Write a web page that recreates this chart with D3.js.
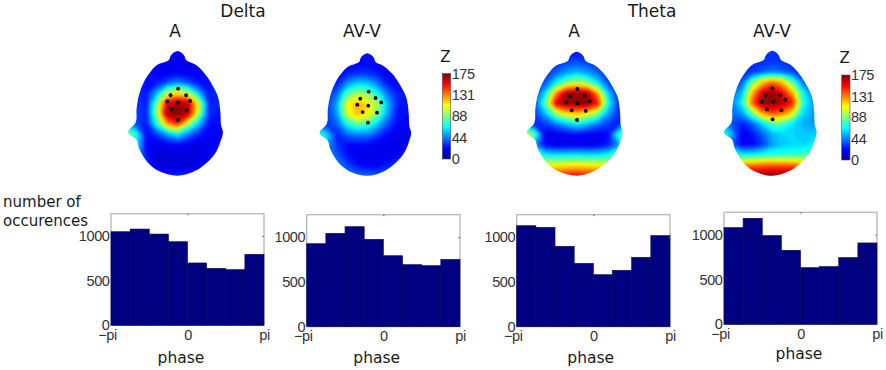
<!DOCTYPE html>
<html>
<head>
<meta charset="utf-8">
<script src="https://cdn.jsdelivr.net/npm/d3@7"></script>
<style>
    html, body { margin: 0; padding: 0; background: #fff; }
    svg { display: block; }
    text { font-family: "DejaVu Sans", sans-serif; fill: #1a1a1a; }
    .tick text { font-family: "Liberation Sans", sans-serif; font-size: 14.5px; letter-spacing: -0.4px; fill: #333; }
</style>
</head>
<body>
<svg id="chart" width="886" height="370"></svg>
<script>
// scalp maps: z, rows front to back, columns left to right
const gridU = [-1.2, -0.96, -0.72, -0.48, -0.24, 0, 0.24, 0.48, 0.72, 0.96, 1.2];
const gridV = [0, 1 / 12, 2 / 12, 3 / 12, 4 / 12, 5 / 12, 6 / 12, 7 / 12, 8 / 12, 9 / 12, 10 / 12, 11 / 12, 1];

const deltaA = [
    [24, 24, 24, 24, 24, 24, 24, 24, 24, 24, 24],
    [24, 24, 24, 22, 20, 22, 20, 22, 24, 24, 24],
    [30, 30, 26, 22, 20, 20, 20, 22, 26, 30, 30],
    [30, 30, 26, 26, 36, 46, 36, 26, 26, 30, 30],
    [34, 32, 26, 52, 98, 110, 98, 56, 26, 34, 34],
    [34, 34, 26, 85, 158, 172, 165, 108, 30, 28, 30],
    [34, 34, 28, 92, 172, 175, 168, 102, 30, 26, 30],
    [50, 36, 26, 72, 128, 150, 100, 60, 26, 24, 30],
    [95, 75, 24, 34, 52, 66, 46, 30, 22, 22, 34],
    [85, 70, 22, 18, 20, 24, 20, 18, 18, 26, 34],
    [70, 60, 26, 16, 16, 16, 16, 16, 20, 30, 34],
    [50, 40, 36, 16, 16, 16, 16, 20, 30, 36, 36],
    [40, 40, 36, 28, 26, 30, 30, 30, 36, 36, 36]
];
const deltaAV = [
    [24, 24, 24, 24, 24, 24, 24, 24, 24, 24, 24],
    [24, 24, 24, 22, 22, 24, 22, 22, 24, 24, 24],
    [26, 26, 24, 28, 32, 32, 28, 22, 22, 26, 26],
    [30, 30, 28, 50, 62, 60, 46, 28, 24, 28, 30],
    [30, 30, 42, 82, 98, 92, 72, 44, 28, 26, 28],
    [30, 32, 54, 110, 125, 118, 96, 56, 28, 24, 28],
    [30, 32, 50, 104, 122, 112, 90, 50, 26, 24, 28],
    [40, 32, 40, 68, 82, 76, 58, 36, 24, 22, 28],
    [80, 62, 28, 40, 44, 44, 34, 24, 20, 20, 30],
    [70, 50, 32, 24, 22, 22, 20, 18, 18, 24, 38],
    [60, 50, 38, 26, 20, 18, 18, 18, 22, 34, 40],
    [50, 48, 46, 36, 26, 22, 22, 28, 36, 40, 40],
    [50, 50, 46, 44, 42, 42, 40, 40, 42, 42, 42]
];
const thetaA = [
    [26, 26, 26, 26, 26, 26, 26, 26, 26, 26, 26],
    [26, 26, 26, 30, 34, 36, 34, 30, 26, 26, 26],
    [30, 30, 30, 40, 50, 56, 50, 40, 30, 30, 30],
    [30, 30, 38, 66, 90, 102, 90, 64, 36, 30, 30],
    [30, 32, 62, 128, 168, 172, 170, 125, 58, 28, 30],
    [30, 36, 82, 158, 175, 175, 175, 152, 72, 30, 30],
    [30, 34, 55, 92, 114, 120, 110, 90, 50, 30, 30],
    [50, 28, 34, 44, 56, 66, 56, 44, 34, 28, 50],
    [110, 85, 20, 20, 22, 24, 22, 20, 24, 80, 100],
    [100, 50, 24, 18, 18, 18, 18, 20, 28, 50, 90],
    [100, 88, 66, 64, 64, 66, 64, 64, 70, 88, 100],
    [110, 108, 108, 112, 114, 115, 114, 112, 108, 108, 110],
    [125, 125, 135, 148, 152, 155, 152, 148, 135, 125, 125]
];
const thetaAV = [
    [30, 30, 30, 30, 30, 30, 30, 30, 30, 30, 30],
    [30, 30, 30, 30, 30, 32, 30, 30, 30, 30, 30],
    [30, 30, 30, 30, 38, 44, 40, 34, 30, 30, 30],
    [34, 34, 38, 85, 118, 135, 120, 82, 42, 34, 34],
    [40, 40, 55, 120, 160, 172, 155, 122, 68, 42, 38],
    [40, 44, 68, 138, 172, 175, 168, 150, 75, 50, 40],
    [40, 42, 50, 85, 128, 142, 136, 112, 62, 50, 44],
    [60, 36, 28, 40, 60, 84, 80, 64, 54, 50, 55],
    [75, 55, 20, 26, 40, 55, 60, 60, 58, 58, 62],
    [75, 42, 22, 22, 32, 50, 58, 60, 60, 66, 80],
    [90, 80, 68, 68, 72, 75, 75, 76, 78, 85, 90],
    [120, 125, 130, 135, 138, 140, 140, 138, 132, 125, 120],
    [165, 165, 170, 175, 175, 175, 175, 175, 170, 165, 165]
];

// electrodes in scalp units [u, v]
const electrodesDeltaA = [[.015, .301], [-.159, .355], [.197, .355], [-.235, .405], [.015, .413], [.288, .4], [-.136, .469], [.212, .475], [.008, .552]];
const electrodesDeltaAV = [[.032, .313], [-.167, .371], [.198, .365], [-.238, .42], [.024, .428], [.333, .401], [-.111, .48], [.23, .485], [.016, .567]];
const electrodesThetaA = [[.015, .301], [-.152, .358], [.182, .355], [-.242, .409], [.023, .417], [.295, .398], [-.114, .473], [.205, .478], [.008, .551]];
const electrodesThetaAV = [[0, .301], [-.165, .357], [.181, .355], [-.252, .408], [.024, .408], [.307, .392], [-.126, .469], [.213, .477], [.008, .549]];

// head silhouette in scalp units, clockwise from the nose
const headOutline = [
    [0, 0], [.1, .016], [.16, .04], [.197, .072], [.4, .107], [.59, .166], [.78, .26], [.93, .366], [.985, .487], [1, .594],
    [1.045, .652], [1, .714], [.89, .807], [.7, .888], [.4, .963], [0, 1],
    [-.43, .963], [-.7, .888], [-.886, .78], [-.94, .714], [-1.136, .652], [-.96, .572], [-.94, .46], [-.886, .353],
    [-.77, .246], [-.62, .166], [-.47, .112], [-.197, .072], [-.16, .04], [-.1, .016]
];

// histograms
const countsDeltaA = [1048, 1078, 1022, 936, 698, 638, 623, 795];
const countsDeltaAV = [926, 1042, 1116, 975, 792, 692, 681, 751];
const countsThetaA = [1127, 1109, 897, 707, 580, 629, 774, 1016];
const countsThetaAV = [1079, 1183, 990, 826, 632, 644, 744, 908];

const countTicks = [0, 500, 1000];
const phaseTicks = [-Math.PI, 0, Math.PI];
const phaseLabels = ['\u2212pi', '0', 'pi'];
const zTicks = [0, 44, 88, 131, 175];
const jetStops = [0, 21.9, 65.6, 109.4, 153.1, 175];
const jetColors = ['#00008f', '#0000ff', '#00ffff', '#ffff00', '#ff0000', '#800000'];

const jet = d3.scaleLinear().domain(jetStops).range(jetColors).clamp(true);
const svg = d3.select('#chart');

svg.append('defs').append('filter').attr('id', 'soften')
    .attr('x', '-5%').attr('y', '-5%').attr('width', '110%').attr('height', '110%')
    .attr('color-interpolation-filters', 'sRGB')
    .append('feGaussianBlur').attr('stdDeviation', 1.8);

function drawHead(id, values, electrodes, cx, halfWidth, top, bottom) {
    let x = d3.scaleLinear().domain([0, 1]).range([cx, cx + halfWidth]);
    let y = d3.scaleLinear().domain([0, 1]).range([top, bottom]);
    let outline = d3.line().x(d => x(d[0])).y(d => y(d[1])).curve(d3.curveCatmullRomClosed.alpha(0.5));

    svg.select('defs').append('clipPath').attr('id', 'clip-' + id)
        .append('path').attr('d', outline(headOutline));

    let nx = gridU.length, ny = gridV.length;
    // d3.contours puts grid value i at coordinate i + 0.5
    let gx = d3.scaleLinear().domain([0.5, nx - 0.5]).range([x(gridU[0]), x(gridU[nx - 1])]);
    let gy = d3.scaleLinear().domain([0.5, ny - 0.5]).range([y(gridV[0]), y(gridV[ny - 1])]);
    let project = d3.geoTransform({
        point: function (px, py) { this.stream.point(gx(px), gy(py)); }
    });
    let contours = d3.contours().size([nx, ny]).thresholds(d3.range(0, 176, 3))(values.flat());

    let g = svg.append('g').attr('clip-path', 'url(#clip-' + id + ')').append('g').attr('filter', 'url(#soften)');
    g.selectAll('path').data(contours).enter().append('path')
        .attr('d', d3.geoPath(project))
        .attr('fill', d => jet(d.value));

    svg.append('g').selectAll('circle').data(electrodes).enter().append('circle')
        .attr('cx', d => x(d[0])).attr('cy', d => y(d[1])).attr('r', 1.9).attr('fill', '#000');
}

function drawColorbar(id, x0, x1, top, bottom, labelY) {
    let y = d3.scaleLinear().domain([0, 175]).range([bottom, top]);
    let grad = svg.select('defs').append('linearGradient').attr('id', id)
        .attr('x1', 0).attr('y1', 1).attr('x2', 0).attr('y2', 0);
    grad.selectAll('stop').data(jetStops).enter().append('stop')
        .attr('offset', d => d / 175).attr('stop-color', (d, i) => jetColors[i]);
    svg.append('rect').attr('x', x0).attr('y', top).attr('width', x1 - x0).attr('height', bottom - top)
        .attr('fill', 'url(#' + id + ')').attr('stroke', '#555').attr('stroke-width', 0.6);
    let axis = svg.append('g').attr('transform', 'translate(' + x1 + ',0)')
        .call(d3.axisRight(y).tickValues(zTicks).tickSize(0).tickPadding(1));
    axis.select('.domain').remove();
    svg.append('text').attr('x', x0 + 3).attr('y', labelY).attr('text-anchor', 'middle')
        .style('font-size', '15px').text('Z');
}

function drawHist(counts, x0, x1, top, bottom, labelX, labelY) {
    let x = d3.scaleLinear().domain([-Math.PI, Math.PI]).range([x0, x1]);
    let y = d3.scaleLinear().domain([0, 1250]).range([bottom, top]);
    let binWidth = 2 * Math.PI / counts.length;

    let g = svg.append('g');
    g.append('rect').attr('x', x0).attr('y', top).attr('width', x1 - x0).attr('height', bottom - top)
        .attr('fill', '#fff').attr('stroke', '#bcbcbc').attr('stroke-width', 1.4);

    g.selectAll('.bar').data(counts).enter().append('rect').attr('class', 'bar')
        .attr('x', (d, i) => x(-Math.PI + i * binWidth))
        .attr('width', (d, i) => x(-Math.PI + (i + 1) * binWidth) - x(-Math.PI + i * binWidth))
        .attr('y', d => y(d))
        .attr('height', d => y(0) - y(d))
        .attr('fill', '#000080')
        .attr('stroke', '#00005a')
        .attr('stroke-width', 0.6);

    let left = g.append('g').attr('transform', 'translate(' + (x0 - 0.5) + ',0)')
        .call(d3.axisLeft(y).tickValues(countTicks).tickFormat(d3.format('d')).tickSize(0).tickPadding(1));
    left.select('.domain').remove();

    let below = g.append('g').attr('transform', 'translate(0,' + bottom + ')')
        .call(d3.axisBottom(x).tickValues(phaseTicks).tickFormat((d, i) => phaseLabels[i]).tickSize(0).tickPadding(4));
    below.select('.domain').remove();
    below.selectAll('text').filter((d, i) => i === 0).attr('dx', -4);

    // small marks on the top and right edges
    let above = g.append('g').attr('transform', 'translate(0,' + top + ')')
        .call(d3.axisTop(x).tickValues([0]).tickSize(-1.5).tickFormat(''));
    above.select('.domain').remove();
    above.selectAll('line').attr('stroke', '#555');
    let right = g.append('g').attr('transform', 'translate(' + x1 + ',0)')
        .call(d3.axisRight(y).tickValues([1000]).tickSize(-1.5).tickFormat(''));
    right.select('.domain').remove();
    right.selectAll('line').attr('stroke', '#555');

    svg.append('text').attr('x', labelX).attr('y', labelY).attr('text-anchor', 'middle')
        .style('font-size', '15.5px').text('phase');
}

function label(txt, px, py, size, anchor) {
    svg.append('text').attr('x', px).attr('y', py).attr('text-anchor', anchor || 'middle')
        .style('font-size', size + 'px').text(txt);
}

drawHead('da', deltaA, electrodesDeltaA, 177.5, 43.5, 51, 175.7);
drawHead('dv', deltaAV, electrodesDeltaAV, 367.3, 42, 53.3, 175.7);
drawHead('ta', thetaA, electrodesThetaA, 576.7, 44, 51.7, 175.7);
drawHead('tv', thetaAV, electrodesThetaAV, 772.3, 42.5, 50.7, 175.7);

drawColorbar('barDelta', 442.3, 450.7, 73.5, 159, 62);
drawColorbar('barTheta', 841.7, 850, 75, 160, 63);

drawHist(countsDeltaA, 111, 264, 213.7, 325.3, 181, 363);
drawHist(countsDeltaAV, 306.7, 460, 214.7, 326.7, 376.7, 363);
drawHist(countsThetaA, 516.7, 670, 214.7, 326.7, 590.7, 363);
drawHist(countsThetaAV, 724, 877, 212.3, 324.3, 799, 359);

label('Delta', 243, 17, 17);
label('Theta', 652, 17, 17);
label('A', 175, 36.5, 17);
label('AV-V', 362, 36.5, 17);
label('A', 574, 36.5, 17);
label('AV-V', 772, 36.5, 17);
label('number of', 3, 207, 15, 'start');
label('occurences', 3, 226, 15, 'start');
</script>
</body>
</html>
